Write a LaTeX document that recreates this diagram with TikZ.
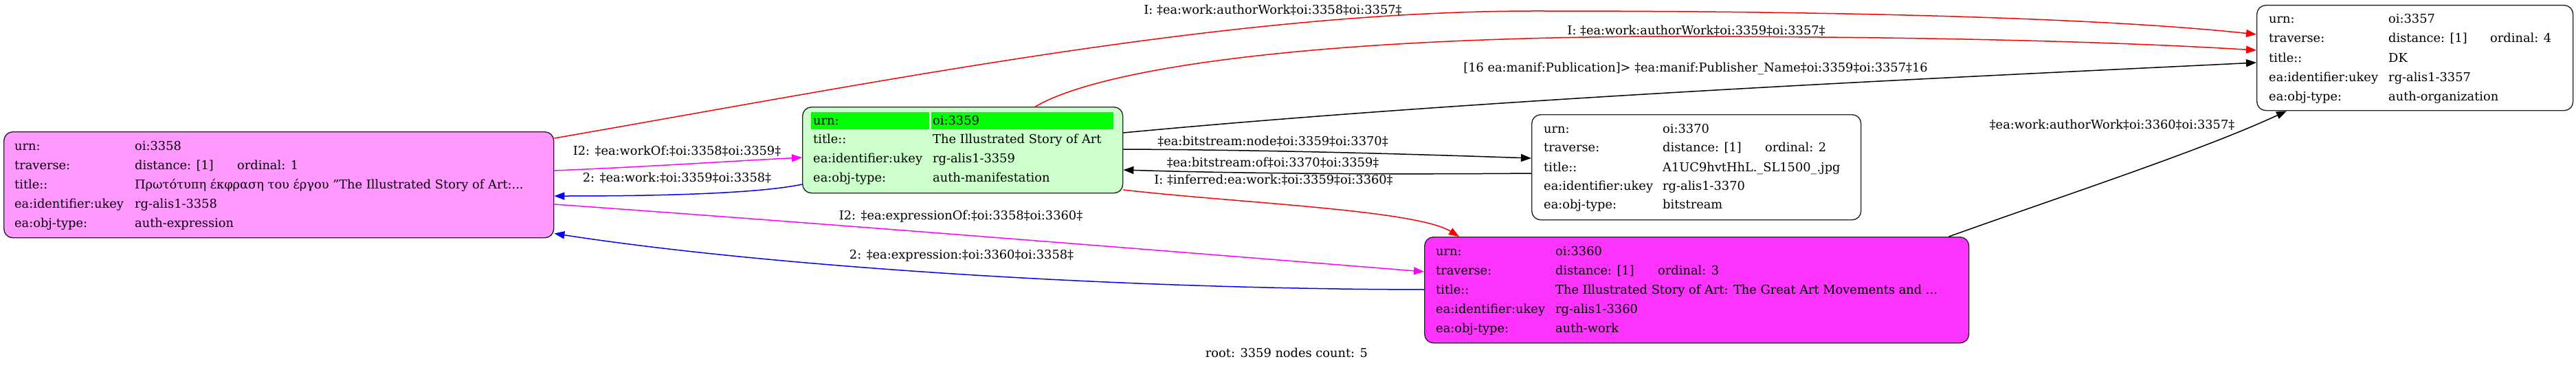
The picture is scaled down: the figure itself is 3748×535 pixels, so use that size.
\documentclass[tikz,border=0pt]{standalone}
\usepackage{fontspec}
\setmainfont{DejaVu Serif}
\usetikzlibrary{arrows.meta}
\definecolor{pinkA}{HTML}{FF99FF}
\definecolor{magB}{HTML}{FF33FF}
\definecolor{lgreen}{HTML}{CCFFCC}
\definecolor{hgreen}{HTML}{00FF00}
\definecolor{edgered}{HTML}{FF0000}
\definecolor{edgemag}{HTML}{FF00FF}
\definecolor{edgeblue}{HTML}{0000FF}
\tikzset{
  obj/.style={draw=black!85, rounded corners=13pt, line width=1.4pt, inner sep=0pt, anchor=north west},
  txt/.style={anchor=base west, inner sep=0pt, font=\fontsize{17.8}{20}\selectfont},
  elab/.style={anchor=center, inner sep=0pt, font=\fontsize{17.8}{20}\selectfont},
  arr/.style={-{Triangle[length=15pt,width=11pt]}, line width=1.5pt},
}
\newcommand\kvrow[6]{%
  \node[txt] (#1k) at (#2,#4) {#5};
  \node[txt] (#1v) at (#3,#4) {#6};}
\begin{document}
\begin{tikzpicture}[x=1pt,y=-1pt]
\useasboundingbox (0,0) rectangle (3748,535);
% object boxes
\node[obj, fill=pinkA, minimum width=800pt, minimum height=154pt] (n3358) at (5,191) {};
\node[obj, fill=lgreen, minimum width=466pt, minimum height=125pt] (n3359) at (1167,155) {};
\node[obj, fill=white, minimum width=479pt, minimum height=153pt] (n3370) at (2228,166) {};
\node[obj, fill=magB, minimum width=792pt, minimum height=154pt] (n3360) at (2072,344) {};
\node[obj, fill=white, minimum width=460pt, minimum height=153pt] (n3357) at (3283,7) {};
% header cells of root
\fill[hgreen] (1180,163) rectangle (1352,188);
\fill[hgreen] (1355,163) rectangle (1620,188);
% 3358
\kvrow{a1}{21}{196}{218}{urn:}{oi:3358}
\kvrow{a2}{21}{196}{246}{traverse:}{distance: [1]}
\node[txt] (a2o) at (345,246) {ordinal: 1};
\kvrow{a3}{21}{196}{274}{title::}{Πρωτότυπη έκφραση του έργου "The Illustrated Story of Art:...}
\kvrow{a4}{21}{196}{302}{ea:identifier:ukey}{rg-alis1-3358}
\kvrow{a5}{21}{196}{330}{ea:obj-type:}{auth-expression}
% 3359
\kvrow{b1}{1183}{1357}{181}{urn:}{oi:3359}
\kvrow{b2}{1183}{1357}{208}{title::}{The Illustrated Story of Art}
\kvrow{b3}{1183}{1357}{236}{ea:identifier:ukey}{rg-alis1-3359}
\kvrow{b4}{1183}{1357}{264}{ea:obj-type:}{auth-manifestation}
% 3370
\kvrow{c1}{2246}{2419}{193}{urn:}{oi:3370}
\kvrow{c2}{2246}{2419}{220}{traverse:}{distance: [1]}
\node[txt] (c2o) at (2568,220) {ordinal: 2};
\kvrow{c3}{2246}{2419}{249}{title::}{A1UC9hvtHhL.\_SL1500\_.jpg}
\kvrow{c4}{2246}{2419}{276}{ea:identifier:ukey}{rg-alis1-3370}
\kvrow{c5}{2246}{2419}{303}{ea:obj-type:}{bitstream}
% 3360
\kvrow{d1}{2089}{2263}{371}{urn:}{oi:3360}
\kvrow{d2}{2089}{2263}{399}{traverse:}{distance: [1]}
\node[txt] (d2o) at (2412,399) {ordinal: 3};
\kvrow{d3}{2089}{2263}{427}{title::}{The Illustrated Story of Art: The Great Art Movements and ...}
\kvrow{d4}{2089}{2263}{455}{ea:identifier:ukey}{rg-alis1-3360}
\kvrow{d5}{2089}{2263}{483}{ea:obj-type:}{auth-work}
% 3357
\kvrow{e1}{3301}{3475}{34}{urn:}{oi:3357}
\kvrow{e2}{3301}{3475}{62}{traverse:}{distance: [1]}
\node[txt] (e2o) at (3623,62) {ordinal: 4};
\kvrow{e3}{3301}{3475}{90}{title::}{DK}
\kvrow{e4}{3301}{3475}{118}{ea:identifier:ukey}{rg-alis1-3357}
\kvrow{e5}{3301}{3475}{146}{ea:obj-type:}{auth-organization}
% edges
\draw[arr, edgered] ([yshift=-10pt]n3358.north east) .. controls (1300,115) and (1800,15) .. (2241,16)
  .. controls (2650,16) and (3050,25) .. ([yshift=-43pt]n3357.north west);
\draw[arr, edgered] ([xshift=-128pt]n3359.north east) .. controls (1600,100) and (1900,55) .. (2414,53)
  .. controls (2900,53) and (3150,65) .. ([yshift=-66pt]n3357.north west);
\draw[arr, black] ([yshift=-38pt]n3359.north east) .. controls (2200,140) and (2900,110) .. ([yshift=-84pt]n3357.north west);
\draw[arr, black] ([yshift=-62pt]n3359.north east) .. controls (1850,218) and (2050,224) .. ([yshift=-64pt]n3370.north west);
\draw[arr, black] ([yshift=-86pt]n3370.north west) .. controls (2000,254) and (1800,252) .. ([yshift=-92pt]n3359.north east);
\draw[arr, edgered] ([yshift=-121pt]n3359.north east) .. controls (1800,295) and (2060,305) .. ([xshift=51pt]n3360.north west);
\draw[arr, edgemag] ([yshift=-57pt]n3358.north east) .. controls (950,242) and (1050,235) .. ([yshift=-74pt]n3359.north west);
\draw[arr, edgeblue] ([yshift=-113pt]n3359.north west) .. controls (1100,282) and (950,285) .. ([yshift=-94pt]n3358.north east);
\draw[arr, edgemag] ([yshift=-106pt]n3358.north east) .. controls (1200,325) and (1700,365) .. ([yshift=-51pt]n3360.north west);
\draw[arr, edgeblue] ([yshift=-77pt]n3360.north west) .. controls (1600,420) and (1100,385) .. ([yshift=7pt]n3358.south east);
\draw[arr, black] ([xshift=-30pt]n3360.north east) .. controls (3000,285) and (3200,220) .. ([xshift=44pt]n3357.south west);
% edge labels
\node[elab] (l1) at (1852,15) {I: ‡ea:work:authorWork‡oi:3358‡oi:3357‡};
\node[elab] (l2) at (2468,45) {I: ‡ea:work:authorWork‡oi:3359‡oi:3357‡};
\node[elab] (l3) at (2467,100) {[16 ea:manif:Publication]> ‡ea:manif:Publisher\_Name‡oi:3359‡oi:3357‡16};
\node[elab] (l4) at (1852,206) {‡ea:bitstream:node‡oi:3359‡oi:3370‡};
\node[elab] (l5) at (1852,237) {‡ea:bitstream:of‡oi:3370‡oi:3359‡};
\node[elab] (l6) at (1853,262) {I: ‡inferred:ea:work:‡oi:3359‡oi:3360‡};
\node[elab] (l7) at (985,220) {I2: ‡ea:workOf:‡oi:3358‡oi:3359‡};
\node[elab] (l8) at (985,259) {2: ‡ea:work:‡oi:3359‡oi:3358‡};
\node[elab] (l9) at (1398,315) {I2: ‡ea:expressionOf:‡oi:3358‡oi:3360‡};
\node[elab] (l10) at (1399,372) {2: ‡ea:expression:‡oi:3360‡oi:3358‡};
\node[elab] (l11) at (3073,182) {‡ea:work:authorWork‡oi:3360‡oi:3357‡};
\node[elab] (root) at (1872,513) {root: 3359 nodes count: 5};
\end{tikzpicture}
\end{document}
